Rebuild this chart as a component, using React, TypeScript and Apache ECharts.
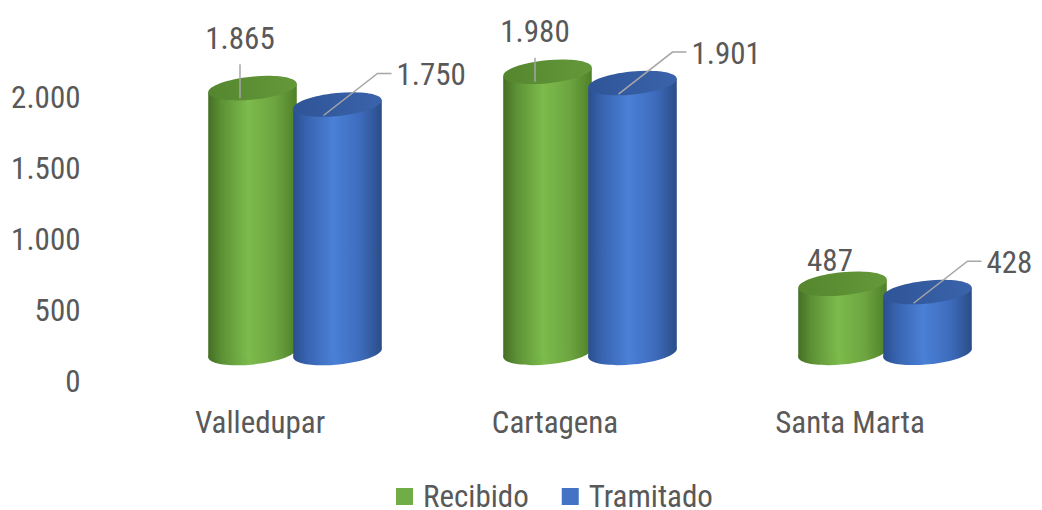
import React, { useEffect, useRef } from "react";
import * as echarts from "echarts";

const CATEGORIES = ["Valledupar", "Cartagena", "Santa Marta"];
const RECIBIDO = [1865, 1980, 487];
const TRAMITADO = [1750, 1901, 428];
const Y_TICKS = [0, 500, 1000, 1500, 2000];

// layout constants (not data)
const GREEN_LABEL_DY = [-50, -40, -23];
const FONT = "'Roboto Condensed', 'Liberation Sans Narrow', 'DejaVu Sans Condensed', Roboto, sans-serif";
const FS = 31;
const TEXT = "#595959";
const DEPTH_X = 35;
const DEPTH_Y = 28;
const HALF_GAP = 42.5;
const RX = 44.5;
const RY = 11.5;
const TILT = 0.1;

const fmt = (v: number) => String(v).replace(/\B(?=(\d{3})+(?!\d))/g, ".");

const PALETTES = {
  green: {
    legend: "#70ad47",
    body: [
      [0, "#456f25"],
      [0.15, "#5c9135"],
      [0.45, "#7cbb4c"],
      [0.75, "#6da540"],
      [1, "#4f8029"],
    ],
    top: [
      [0, "#55862f"],
      [1, "#64993a"],
    ],
  },
  blue: {
    legend: "#4472c4",
    body: [
      [0, "#2a4f8e"],
      [0.15, "#3863b0"],
      [0.45, "#4a80d6"],
      [0.75, "#3e6cbd"],
      [1, "#2b4d88"],
    ],
    top: [
      [0, "#2f5597"],
      [1, "#3a63ab"],
    ],
  },
};

function grad(stops: any[], horizontal = true) {
  return new echarts.graphic.LinearGradient(
    0,
    0,
    horizontal ? 1 : 0,
    horizontal ? 0 : 1,
    stops.map(([offset, color]) => ({ offset, color }))
  );
}

function makeRenderItem(side: "green" | "blue") {
  const pal = PALETTES[side];
  const sign = side === "green" ? -1 : 1;
  return (params: any, api: any) => {
    const idx = api.value(0);
    const val = api.value(1);
    const p0 = api.coord([idx, 0]);
    const p1 = api.coord([idx, val]);
    const cx = p0[0] + DEPTH_X + sign * HALF_GAP;
    const yb = p0[1] - DEPTH_Y;
    const yt = p1[1] - DEPTH_Y;
    const a = RX * Math.cos(TILT);
    const b = RX * Math.sin(TILT);
    const body = grad(pal.body);
    const children: any[] = [
      {
        type: "ellipse",
        shape: { cx, cy: yb, rx: RX, ry: RY },
        originX: cx,
        originY: yb,
        rotation: TILT,
        style: { fill: body },
      },
      {
        type: "polygon",
        shape: {
          points: [
            [cx - a, yt + b],
            [cx + a, yt - b],
            [cx + a, yb - b],
            [cx - a, yb + b],
          ],
        },
        style: { fill: body },
      },
      {
        type: "ellipse",
        shape: { cx, cy: yt, rx: RX, ry: RY },
        originX: cx,
        originY: yt,
        rotation: TILT,
        style: { fill: grad(pal.top) },
      },
    ];
    if (side === "green") {
      const lx = cx - 12.5;
      const ly = yt + GREEN_LABEL_DY[idx];
      const leadTop = ly + 26;
      const leadBottom = yt + 10;
      if (leadBottom - leadTop > 10) {
        children.push({
          type: "polyline",
          shape: { points: [[lx, leadBottom], [lx, leadTop]] },
          style: { stroke: "#a6a6a6", lineWidth: 1.5, fill: null },
        });
      }
      children.push({
        type: "text",
        x: lx,
        y: ly,
        style: {
          text: fmt(val),
          fontSize: FS,
          fontFamily: FONT,
          fill: TEXT,
          align: "center",
          verticalAlign: "middle",
        },
      });
    } else {
      children.push({
        type: "polyline",
        shape: {
          points: [
            [cx - 14, yt + 11],
            [cx + 40, yt - 31],
            [cx + 54, yt - 31],
          ],
        },
        style: { stroke: "#a6a6a6", lineWidth: 1.5, fill: null },
      });
      children.push({
        type: "text",
        x: cx + 59,
        y: yt - 30,
        style: {
          text: fmt(val),
          fontSize: FS,
          fontFamily: FONT,
          fill: TEXT,
          align: "left",
          verticalAlign: "middle",
        },
      });
    }
    return { type: "group", children };
  };
}

export default function App() {
  const ref = useRef<HTMLDivElement>(null);
  useEffect(() => {
    document.body.style.margin = "0";
    if (!ref.current) return;
    const chart = echarts.init(ref.current, null, { renderer: "svg" });
    chart.setOption({
      animation: false,
      backgroundColor: "#ffffff",
      grid: { left: 112.5, right: 44.5, top: 97, bottom: 129 },
      legend: {
        left: 391,
        top: 476,
        padding: 5,
        itemWidth: 17,
        itemHeight: 17,
        itemGap: 33,
        icon: "rect",
        textStyle: {
          fontSize: FS,
          fontFamily: FONT,
          color: TEXT,
          padding: [0, 0, 0, 5],
          lineHeight: 30,
        },
        data: ["Recibido", "Tramitado"],
      },
      xAxis: {
        type: "category",
        data: CATEGORIES,
        axisLine: { show: false },
        axisTick: { show: false },
        axisLabel: { fontSize: FS, fontFamily: FONT, color: TEXT, margin: 26 },
      },
      yAxis: {
        type: "value",
        min: Y_TICKS[0],
        max: Y_TICKS[Y_TICKS.length - 1],
        interval: Y_TICKS[1] - Y_TICKS[0],
        splitLine: { show: false },
        axisLine: { show: false },
        axisTick: { show: false },
        axisLabel: {
          fontSize: FS,
          fontFamily: FONT,
          color: TEXT,
          margin: 32,
          formatter: (v: number) => fmt(v),
        },
      },
      series: [
        {
          name: "Recibido",
          type: "custom",
          itemStyle: { color: PALETTES.green.legend },
          renderItem: makeRenderItem("green"),
          encode: { x: 0, y: 1 },
          data: RECIBIDO.map((v, i) => [i, v]),
          clip: false,
          z: 2,
        },
        {
          name: "Tramitado",
          type: "custom",
          itemStyle: { color: PALETTES.blue.legend },
          renderItem: makeRenderItem("blue"),
          encode: { x: 0, y: 1 },
          data: TRAMITADO.map((v, i) => [i, v]),
          clip: false,
          z: 3,
        },
      ],
    });
    return () => chart.dispose();
  }, []);
  return <div ref={ref} style={{ width: 1042, height: 510 }} />;
}
